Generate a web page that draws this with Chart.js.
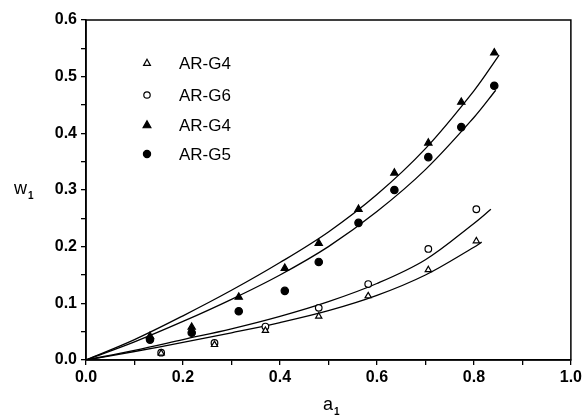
<!DOCTYPE html>
<html>
<head>
<meta charset="utf-8">
<script src="https://cdn.jsdelivr.net/npm/chart.js@4.4.1/dist/chart.umd.min.js"></script>
<style>
  body { margin: 0; background: #fff; }
  #grafico { display: block; }
</style>
</head>
<body>
<canvas id="grafico" width="585" height="416"></canvas>
<script>
// puntos medidos
const aAbiertos = [0.155, 0.265, 0.37, 0.48, 0.582, 0.706, 0.805];
const wG4Abierto = [0.012, 0.027, 0.052, 0.077, 0.113, 0.159, 0.21];
const wG6 = [0.013, 0.030, 0.059, 0.092, 0.134, 0.196, 0.266];
const aLlenos = [0.132, 0.218, 0.315, 0.41, 0.48, 0.562, 0.636, 0.706, 0.774, 0.842];
const wG4Lleno = [0.042, 0.058, 0.111, 0.162, 0.206, 0.266, 0.33, 0.383, 0.455, 0.542];
const wG5 = [0.036, 0.048, 0.086, 0.122, 0.173, 0.242, 0.30, 0.358, 0.411, 0.484];

// curvas de ajuste
const aCurvaG4Lleno = [0, 0.1, 0.2, 0.3, 0.4, 0.5, 0.6, 0.7, 0.8, 0.852];
const wCurvaG4Lleno = [0, 0.036, 0.078, 0.123, 0.172, 0.226, 0.292, 0.373, 0.475, 0.538];
const aCurvaG5 = [0, 0.1, 0.2, 0.3, 0.4, 0.5, 0.6, 0.7, 0.8, 0.845];
const wCurvaG5 = [0, 0.032, 0.068, 0.107, 0.15, 0.2, 0.262, 0.336, 0.428, 0.476];
const aCurvaG6 = [0, 0.1, 0.2, 0.3, 0.4, 0.5, 0.6, 0.7, 0.8, 0.835];
const wCurvaG6 = [0, 0.017, 0.036, 0.055, 0.077, 0.103, 0.135, 0.177, 0.241, 0.266];
const aCurvaG4Abierto = [0, 0.1, 0.2, 0.3, 0.4, 0.5, 0.6, 0.7, 0.8, 0.816];
const wCurvaG4Abierto = [0, 0.015, 0.031, 0.048, 0.066, 0.087, 0.114, 0.150, 0.199, 0.208];

const etiquetas = ['AR-G4', 'AR-G6', 'AR-G4', 'AR-G5'];
const ticksX = [0, 0.2, 0.4, 0.6, 0.8, 1.0];
const ticksY = [0, 0.1, 0.2, 0.3, 0.4, 0.5, 0.6];

function puntos(xs, ys) {
    return xs.map((x, i) => ({ x: x, y: ys[i] }));
}

function serie(xs, ys, estilo, relleno, radio) {
    return {
        data: puntos(xs, ys),
        showLine: false,
        pointStyle: estilo,
        pointRadius: radio,
        pointBorderWidth: 1.2,
        pointBorderColor: '#000',
        pointBackgroundColor: relleno
    };
}

function curva(xs, ys) {
    return {
        data: puntos(xs, ys),
        showLine: true,
        borderColor: '#000',
        borderWidth: 1.3,
        pointRadius: 0,
        tension: 0.35
    };
}

function esMultiplo(v, paso) {
    const r = Math.round(v / paso);
    return Math.abs(v - r * paso) < 1e-6;
}

function dibujarSimbolo(ctx, estilo, relleno, x, y, r) {
    ctx.beginPath();
    if (estilo === 'triangle') {
        ctx.moveTo(x, y - r * 1.1);
        ctx.lineTo(x + r, y + r * 0.7);
        ctx.lineTo(x - r, y + r * 0.7);
        ctx.closePath();
    } else {
        ctx.arc(x, y, r, 0, Math.PI * 2);
    }
    ctx.fillStyle = relleno;
    ctx.fill();
    ctx.lineWidth = 1.2;
    ctx.strokeStyle = '#000';
    ctx.stroke();
}

function tituloConSubindice(ctx, letra, x, y) {
    ctx.fillStyle = '#000';
    ctx.textBaseline = 'alphabetic';
    ctx.textAlign = 'left';
    ctx.font = '18px "Liberation Sans", Arial, sans-serif';
    ctx.fillText(letra, x, y);
    const ancho = ctx.measureText(letra).width;
    ctx.font = 'bold 10px "Liberation Sans", Arial, sans-serif';
    ctx.fillText('1', x + ancho + 1, y + 5);
}

const marcoYLeyenda = {
    id: 'marcoYLeyenda',
    afterDraw(chart) {
        const ctx = chart.ctx;
        const area = chart.chartArea;
        ctx.save();
        ctx.strokeStyle = '#000';
        ctx.lineWidth = 1.5;
        ctx.strokeRect(area.left, area.top, area.right - area.left, area.bottom - area.top);

        const simbolos = [
            ['triangle', '#fff', 3.4],
            ['circle', '#fff', 3.2],
            ['triangle', '#000', 3.9],
            ['circle', '#000', 3.6]
        ];
        const filas = [63, 95, 125, 154];
        for (let i = 0; i < etiquetas.length; i++) {
            dibujarSimbolo(ctx, simbolos[i][0], simbolos[i][1], 147, filas[i], simbolos[i][2]);
            ctx.fillStyle = '#000';
            ctx.font = '17px "Liberation Sans", Arial, sans-serif';
            ctx.textAlign = 'left';
            ctx.textBaseline = 'middle';
            ctx.fillText(etiquetas[i], 179, filas[i] + 1);
        }

        tituloConSubindice(ctx, 'w', 14, 194);
        tituloConSubindice(ctx, 'a', 323, 410);
        ctx.restore();
    }
};

function renderizarGrafico() {
    const ctx = document.getElementById('grafico').getContext('2d');
    new Chart(ctx, {
        type: 'scatter',
        data: {
            datasets: [
                serie(aAbiertos, wG4Abierto, 'triangle', '#fff', 3.6),
                serie(aAbiertos, wG6, 'circle', '#fff', 3.3),
                serie(aLlenos, wG4Lleno, 'triangle', '#000', 4.2),
                serie(aLlenos, wG5, 'circle', '#000', 3.7),
                curva(aCurvaG4Lleno, wCurvaG4Lleno),
                curva(aCurvaG5, wCurvaG5),
                curva(aCurvaG6, wCurvaG6),
                curva(aCurvaG4Abierto, wCurvaG4Abierto)
            ]
        },
        options: {
            responsive: false,
            animation: false,
            layout: { padding: { top: 20, right: 13, left: 0, bottom: 0 } },
            plugins: {
                legend: { display: false },
                tooltip: { enabled: false }
            },
            scales: {
                x: {
                    min: ticksX[0],
                    max: ticksX[ticksX.length - 1],
                    afterFit: (escala) => { escala.height = 56; },
                    ticks: {
                        stepSize: 0.1,
                        padding: 3,
                        color: '#000',
                        font: { family: '"Liberation Sans", Arial, sans-serif', size: 16, weight: 'bold' },
                        callback: (v) => ticksX.some(t => Math.abs(t - v) < 1e-6) ? v.toFixed(1) : ''
                    },
                    grid: { drawOnChartArea: false, drawTicks: true, tickLength: 5, color: '#000', lineWidth: 1.3 },
                    border: { display: true, color: '#000', width: 1.5 }
                },
                y: {
                    min: ticksY[0],
                    max: ticksY[ticksY.length - 1],
                    afterFit: (escala) => { escala.width = 86; },
                    ticks: {
                        stepSize: 0.05,
                        padding: 4,
                        color: '#000',
                        font: { family: '"Liberation Sans", Arial, sans-serif', size: 16, weight: 'bold' },
                        callback: (v) => esMultiplo(v, 0.1) ? v.toFixed(1) : ''
                    },
                    grid: { drawOnChartArea: false, drawTicks: true, tickLength: 5, color: '#000', lineWidth: 1.3 },
                    border: { display: true, color: '#000', width: 1.5 }
                }
            }
        },
        plugins: [marcoYLeyenda]
    });
}

renderizarGrafico();
</script>
</body>
</html>
